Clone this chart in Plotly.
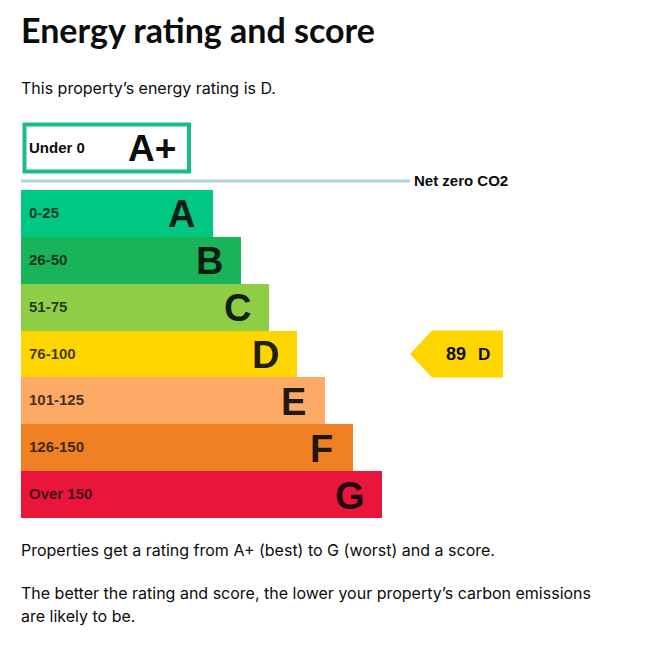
import plotly.graph_objects as go

WIDTH = 667
HEIGHT = 645

RANGES = ["0-25", "26-50", "51-75", "76-100", "101-125", "126-150", "Over 150"]
LETTERS = ["A", "B", "C", "D", "E", "F", "G"]
BAR_LENGTHS = [192, 220, 248, 276, 304, 332, 361]
BAR_COLORS = ["#00c781", "#19b459", "#8dce46", "#ffd500", "#fcaa65", "#ef8023", "#e9153b"]

TITLE = "Energy rating and score"
INTRO = "This property\u2019s energy rating is D."
FOOT_LINES = [
    "Properties get a rating from A+ (best) to G (worst) and a score.",
    "The better the rating and score, the lower your property\u2019s carbon emissions",
    "are likely to be.",
]
FOOT_Y = [550, 593, 616]

TEXT_FONT = "Inter"
TITLE_FONT = "Lato"
CHART_FONT = "Liberation Sans"
INK = "#0b0c0c"

BARS_LEFT = 21
BARS_TOP = 190
BARS_BOTTOM = 518
ROW_H = (BARS_BOTTOM - BARS_TOP) / len(RANGES)


def px(x):
    return x / WIDTH


def py(y):
    return 1 - y / HEIGHT


def label(x, y, text, size, bold=False, family=TEXT_FONT, color=INK, anchor="left"):
    return dict(
        x=px(x), y=py(y), xref="paper", yref="paper", text=text, showarrow=False,
        xanchor=anchor, yanchor="middle", align="left", borderpad=0, borderwidth=0,
        font=dict(family=family, size=size, color=color, weight="bold" if bold else "normal"),
    )


fig = go.Figure(
    go.Bar(
        x=BAR_LENGTHS,
        y=RANGES,
        orientation="h",
        marker=dict(color=BAR_COLORS, line=dict(width=0)),
        hoverinfo="skip",
    )
)

annotations = [
    label(21, 30, TITLE, 34, bold=True, family=TITLE_FONT),
    label(21, 88, INTRO, 16),
    label(29, 147, "Under 0", 15, bold=True, family=CHART_FONT),
    label(176, 148, "A+", 37, bold=True, family=CHART_FONT, anchor="right"),
    label(414, 180, "Net zero CO2", 15, bold=True, family=CHART_FONT),
]
for line, y in zip(FOOT_LINES, FOOT_Y):
    annotations.append(label(21, y, line, 16))

# range on the left of each bar, big letter centred near its end
for rng, letter, length in zip(RANGES, LETTERS, BAR_LENGTHS):
    annotations.append(dict(
        x=0, y=rng, xref="x", yref="y", text=rng, showarrow=False, xanchor="left",
        xshift=8, yshift=1, borderpad=0, borderwidth=0,
        font=dict(family=CHART_FONT, size=15, weight="bold", color="rgba(11,12,12,0.78)"),
    ))
    annotations.append(dict(
        x=length, y=rng, xref="x", yref="y", text=letter, showarrow=False, xanchor="center",
        xshift=-32, yshift=-1, borderpad=0, borderwidth=0,
        font=dict(family=CHART_FONT, size=38, weight="bold", color="rgba(11,12,12,0.93)"),
    ))

# score arrow sits on the D row
d_mid = BARS_TOP + ROW_H * (LETTERS.index("D") + 0.5)
annotations.append(label(446, d_mid, "89", 18, bold=True, family=CHART_FONT))
annotations.append(label(478, d_mid, "D", 17, bold=True, family=CHART_FONT))

arrow = "M {} {} L {} {} L {} {} L {} {} L {} {} Z".format(
    px(410), py(d_mid),
    px(432), py(d_mid - ROW_H / 2),
    px(503), py(d_mid - ROW_H / 2),
    px(503), py(d_mid + ROW_H / 2),
    px(432), py(d_mid + ROW_H / 2),
)

shapes = [
    dict(type="rect", xref="paper", yref="paper", x0=px(24.5), x1=px(189), y0=py(171.5), y1=py(124.5),
         line=dict(color="#19bc8a", width=4), fillcolor="white"),
    dict(type="line", xref="paper", yref="paper", x0=px(21), x1=px(410), y0=py(181), y1=py(181),
         line=dict(color="#b0d4de", width=3)),
    dict(type="path", xref="paper", yref="paper", path=arrow, fillcolor=BAR_COLORS[3], line=dict(width=0)),
]

fig.update_layout(
    width=WIDTH,
    height=HEIGHT,
    margin=dict(l=0, r=0, t=0, b=0),
    paper_bgcolor="white",
    plot_bgcolor="white",
    showlegend=False,
    bargap=0,
    xaxis=dict(domain=[px(BARS_LEFT), 1], range=[0, WIDTH - BARS_LEFT], visible=False, fixedrange=True),
    yaxis=dict(
        domain=[py(BARS_BOTTOM), py(BARS_TOP)],
        categoryorder="array",
        categoryarray=RANGES,
        autorange="reversed",
        visible=False,
        fixedrange=True,
    ),
    annotations=annotations,
    shapes=shapes,
)

fig.write_html(
    "out.html",
    config=dict(displayModeBar=False),
    post_script="document.body.style.margin='0';document.body.style.overflow='hidden';",
)
